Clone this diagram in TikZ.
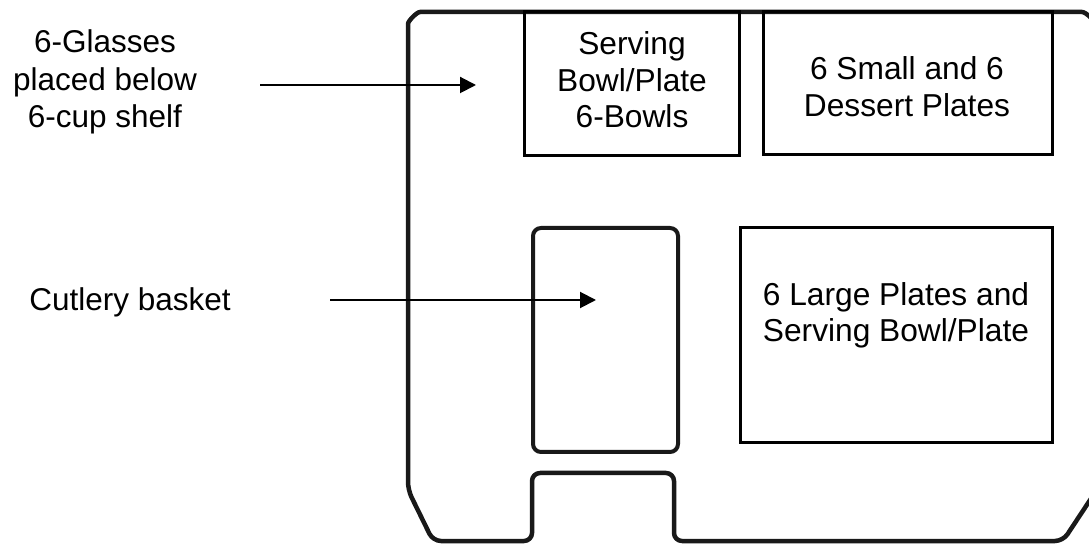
\documentclass[tikz,border=0pt]{standalone}
\usepackage{fontspec}
\setmainfont{Liberation Sans}
\usetikzlibrary{arrows.meta}
\tikzset{
  lbl/.style={inner sep=0pt, align=center, font=\fontsize{31.7}{36.5}\selectfont},
  outerline/.style={line width=4.5pt, draw=black!90, line join=round},
  shelfbox/.style={line width=3pt, draw=black},
  basketline/.style={line width=4pt, draw=black!90, rounded corners=8pt},
  pointer/.style={line width=2pt, -{Triangle[length=16pt,width=16pt]}}
}
\begin{document}
\begin{tikzpicture}[x=1pt,y=1pt]
\useasboundingbox (0,0) rectangle (1089,546);
\clip (0,0) rectangle (1089,546);
\fill[white] (0,0) rectangle (1089,546);
% outer cabinet outline
\draw[outerline, rounded corners=8pt] (433,5) -- (408,56) -- (408,514)
  arc[start angle=180, end angle=90, radius=20] -- (1074,534)
  arc[start angle=90, end angle=0, radius=22] -- (1096,55) -- (1063,5)
  -- (674,5) -- (674,73) -- (532,73) -- (532,5) -- cycle;
% shelves
\draw[shelfbox] (524,390) rectangle (739,534);
\draw[shelfbox] (763,391) rectangle (1052,534);
\draw[shelfbox] (740,103) rectangle (1052,318);
\draw[basketline] (533,94) rectangle (678,318);
% texts
\node[lbl] (serving) at (632,466) {Serving\\Bowl/Plate\\6-Bowls};
\node[lbl] (dessert) at (907,459.5) {6 Small and 6\\Dessert Plates};
\node[lbl] (large) at (896,230.5) {6 Large Plates and\\Serving Bowl/Plate};
\node[lbl, font=\fontsize{31.5}{37.5}\selectfont] (glasses) at (105,464) {6-Glasses\\placed below\\6-cup shelf};
\node[lbl, font=\fontsize{31.5}{37.5}\selectfont, anchor=base] (cutlery) at (130,235) {Cutlery basket};
% arrows
\coordinate (gA) at (260,461);
\coordinate (gB) at (476,461);
\coordinate (cA) at (330,246);
\coordinate (cB) at (596,246);
\draw[pointer] (gA) -- (gB);
\draw[pointer] (cA) -- (cB);
\end{tikzpicture}
\end{document}
